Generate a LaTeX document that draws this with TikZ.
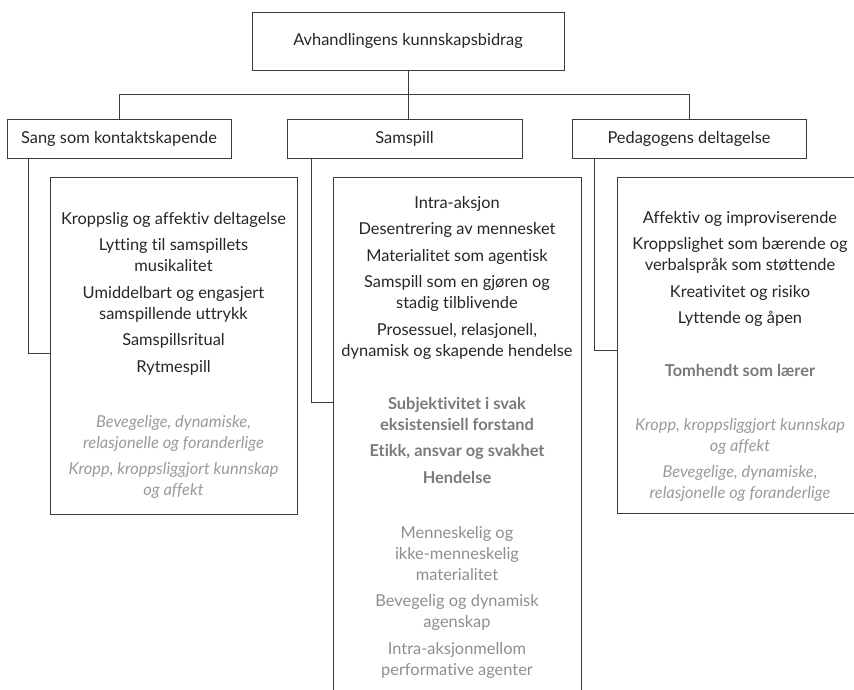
\documentclass[tikz,border=0pt]{standalone}
\usepackage{fontspec}
\setmainfont{Lato}[Ligatures=NoCommon]

\definecolor{linecol}{HTML}{3C3C3C}
\definecolor{maintext}{HTML}{262626}
\definecolor{boldgray}{HTML}{7A7A7A}
\definecolor{softgray}{HTML}{8E8E8E}
\definecolor{italgray}{HTML}{9A9A9A}

\tikzstyle {block} = [draw=linecol, line width=1pt, minimum height=39pt, inner sep=0pt, text=maintext, font=\fontsize{16.4}{21}\selectfont]
\tikzstyle {listbox} = [draw=linecol, line width=1pt, inner sep=0pt]
\tikzstyle {items} = [align=center, inner sep=0pt, anchor=north, text=maintext, font=\fontsize{16.4}{21}\selectfont]
\tikzstyle {bolditems} = [items, text=boldgray, font=\fontsize{16.4}{21}\selectfont\bfseries]
\tikzstyle {softitems} = [items, text=softgray]
\tikzstyle {italitems} = [items, text=italgray, font=\fontsize{16.4}{21}\selectfont\itshape]
\tikzstyle {link} = [draw=linecol, line width=1pt]

\begin{document}
\begin{tikzpicture}[x=1pt, y=-1pt]
            \useasboundingbox (0,0) rectangle (854,689);
            \clip (0,0) rectangle (854,689);

            % headings
            \node [block, minimum width=312pt, minimum height=58pt] (root) at (408,41) {Avhandlingens kunnskapsbidrag};
            \node [block, minimum width=224pt] (sang) at (119,138.5) {Sang som kontaktskapende};
            \node [block, minimum width=235pt] (samspill) at (404.5,138.5) {Samspill};
            \node [block, minimum width=234pt] (pedagog) at (689,138.5) {Pedagogens deltagelse};

            % boxes under the headings
            \node [listbox, minimum width=247pt, minimum height=337pt] (sangbox) at (173.5,345.5) {};
            \node [listbox, minimum width=248pt, minimum height=543pt] (samspillbox) at (457,448.5) {};
            \node [listbox, minimum width=246pt, minimum height=336pt] (pedagogbox) at (740,345) {};

            \draw [link] (root.south) -- (root.south |- samspill.north);
            \draw [link] (sang.north) -- ++(0,-24) -| (pedagog.north);
            \draw [link] ([xshift=22pt]sang.south west) |- ([yshift=-177pt]sangbox.north west);
            \draw [link] ([xshift=25pt]samspill.south west) |- ([yshift=-226pt]samspillbox.north west);
            \draw [link] ([xshift=23pt]pedagog.south west) |- ([yshift=-174pt]pedagogbox.north west);

            % Sang som kontaktskapende
            \node [items] (sangmain) at (173.5,212) {Kroppslig og affektiv deltagelse\\[5.5pt] Lytting til samspillets\\ musikalitet\\[5.5pt] Umiddelbart og engasjert\\ samspillende uttrykk\\[5.5pt] Samspillsritual\\[5.5pt] Rytmespill};
            \node [italitems] (sangsoft) at (173.5,415) {Bevegelige, dynamiske,\\ relasjonelle og foranderlige\\[5.5pt] Kropp, kroppsliggjort kunnskap\\ og affekt};

            % Samspill
            \node [items] (samspillmain) at (457,196) {Intra-aksjon\\[5.5pt] Desentrering av mennesket\\[5.5pt] Materialitet som agentisk\\[5.5pt] Samspill som en gjøren og\\ stadig tilblivende\\[5.5pt] Prosessuel, relasjonell,\\ dynamisk og skapende hendelse};
            \node [bolditems] (samspillbold) at (457,397) {Subjektivitet i svak\\ eksistensiell forstand\\[5.5pt] Etikk, ansvar og svakhet\\[5.5pt] Hendelse};
            \node [softitems] (samspillsoft) at (457,526) {Menneskelig og\\ ikke-menneskelig\\ materialitet\\[5.5pt] Bevegelig og dynamisk\\ agenskap\\[5.5pt] Intra-aksjonmellom\\ performative agenter};

            % Pedagogens deltagelse
            \node [items] (pedagogmain) at (740,211) {Affektiv og improviserende\\[5.5pt] Kroppslighet som bærende og\\ verbalspråk som støttende\\[5.5pt] Kreativitet og risiko\\[5.5pt] Lyttende og åpen};
            \node [bolditems] (pedagogbold) at (740,364) {Tomhendt som lærer};
            \node [italitems] (pedagogsoft) at (740,418) {Kropp, kroppsliggjort kunnskap\\ og affekt\\[5.5pt] Bevegelige, dynamiske,\\ relasjonelle og foranderlige};
        \end{tikzpicture}
\end{document}
